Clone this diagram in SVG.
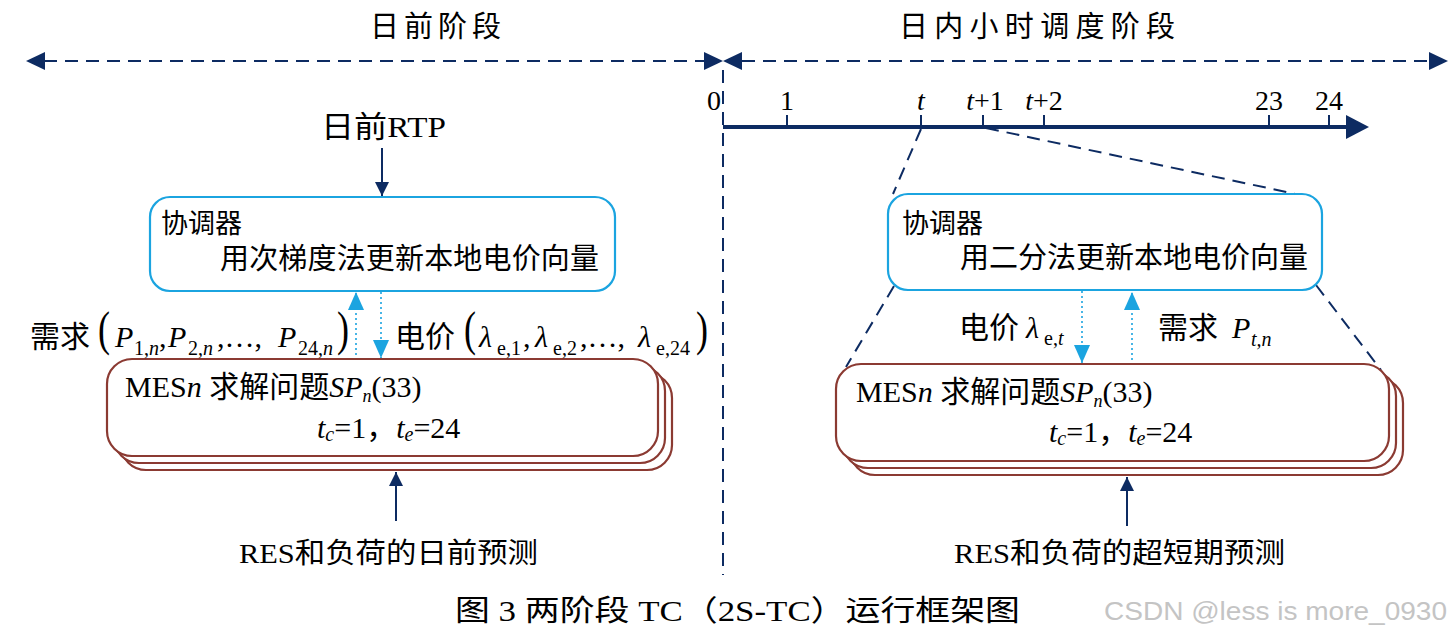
<svg xmlns="http://www.w3.org/2000/svg" width="1455" height="637" viewBox="0 0 1455 637">
<style>
text{font-family:"Liberation Serif","Noto Sans CJK SC",serif;fill:#000}
.it{font-style:italic}
.nav{stroke:#0d2b62;fill:none}
.dash{stroke:#0d2b62;stroke-width:2;stroke-dasharray:13,8;fill:none}
.coord{fill:#fff;stroke:#1ba4e0;stroke-width:2.2}
.mes{fill:#fff;stroke:#8b3a32;stroke-width:2.2}
.dot{stroke:#1ba4e0;stroke-width:1.6;stroke-dasharray:2,3;fill:none}
.sub{font-size:20px}
</style>
<defs>
<marker id="nh" viewBox="0 0 10 10" refX="10" refY="5" markerWidth="14" markerHeight="14" markerUnits="userSpaceOnUse" orient="auto"><path d="M0,0L10,5L0,10z" fill="#0d2b62"/></marker>
<marker id="ch" viewBox="0 0 10 10" refX="10" refY="5" markerWidth="18" markerHeight="16" markerUnits="userSpaceOnUse" orient="auto" preserveAspectRatio="none"><path d="M0,0L10,5L0,10z" fill="#1ba4e0"/></marker>
</defs>
<rect width="1455" height="637" fill="#fff"/>

<g id="connectors">
<line class="dash" x1="44" y1="61" x2="705" y2="61"/>
<line class="dash" x1="742" y1="61" x2="1430" y2="61"/>
<path d="M26,61L45,52L45,70z" fill="#0d2b62"/>
<path d="M723,61L704,52L704,70z" fill="#0d2b62"/>
<path d="M723,61L742,52L742,70z" fill="#0d2b62"/>
<path d="M1448,61L1429,52L1429,70z" fill="#0d2b62"/>
<line class="dash" x1="723" y1="70" x2="723" y2="575"/>
<line class="nav" x1="723" y1="127" x2="1350" y2="127" stroke-width="4"/>
<path d="M1369,127L1346,115L1346,139z" fill="#0d2b62"/>
<g class="nav" stroke-width="2">
<line x1="787" y1="115" x2="787" y2="127"/>
<line x1="921" y1="115" x2="921" y2="127"/>
<line x1="983" y1="115" x2="983" y2="127"/>
<line x1="1044" y1="115" x2="1044" y2="127"/>
<line x1="1269" y1="115" x2="1269" y2="127"/>
<line x1="1329" y1="115" x2="1329" y2="127"/>
</g>
<line class="dash" x1="921" y1="129" x2="893" y2="194"/>
<line class="dash" x1="986" y1="128" x2="1310" y2="197"/>
<line class="dash" x1="894" y1="286" x2="846" y2="367"/>
<line class="dash" x1="1316" y1="285" x2="1381" y2="370"/>
<line class="nav" stroke-width="2" x1="382" y1="148" x2="382" y2="196" marker-end="url(#nh)"/>
<line class="nav" stroke-width="2" x1="396" y1="521" x2="396" y2="472" marker-end="url(#nh)"/>
<line class="nav" stroke-width="2" x1="1127" y1="526" x2="1127" y2="477" marker-end="url(#nh)"/>
<line class="dot" x1="356" y1="355" x2="356" y2="292" marker-end="url(#ch)"/>
<line class="dot" x1="381" y1="292" x2="381" y2="358" marker-end="url(#ch)"/>
<line class="dot" x1="1082" y1="291" x2="1082" y2="363" marker-end="url(#ch)"/>
<line class="dot" x1="1132" y1="365" x2="1132" y2="292" marker-end="url(#ch)"/>
</g>

<g id="stage-labels">
<text x="370" y="37" font-size="29" textLength="131" lengthAdjust="spacing">日前阶段</text>
<text x="899" y="37" font-size="29" textLength="276" lengthAdjust="spacing">日内小时调度阶段</text>
</g>

<g id="timeline-labels">
<text x="714" y="110" font-size="28" text-anchor="middle">0</text>
<text x="787" y="110" font-size="28" text-anchor="middle">1</text>
<text x="921" y="110" font-size="28" text-anchor="middle" class="it">t</text>
<text x="985" y="110" font-size="28" text-anchor="middle"><tspan class="it">t</tspan>+1</text>
<text x="1044" y="110" font-size="28" text-anchor="middle"><tspan class="it">t</tspan>+2</text>
<text x="1269" y="110" font-size="28" text-anchor="middle">23</text>
<text x="1329" y="110" font-size="28" text-anchor="middle">24</text>
</g>

<g id="rtp-input">
<text x="321" y="137" font-size="30" textLength="125" lengthAdjust="spacingAndGlyphs">日前RTP</text>
</g>

<g id="coordinator-left">
<rect class="coord" x="150" y="197" width="465" height="94" rx="20"/>
<text x="161" y="233" font-size="27">协调器</text>
<text x="220" y="269" font-size="29" textLength="379" lengthAdjust="spacing">用次梯度法更新本地电价向量</text>
</g>

<g id="coordinator-right">
<rect class="coord" x="888" y="194" width="434" height="96" rx="20"/>
<text x="902" y="233" font-size="27">协调器</text>
<text x="960" y="268" font-size="29" textLength="348" lengthAdjust="spacing">用二分法更新本地电价向量</text>
</g>

<g id="mes-left">
<rect class="mes" x="121" y="373" width="551" height="97" rx="25"/>
<rect class="mes" x="114" y="366" width="551" height="97" rx="25"/>
<rect class="mes" x="107" y="359" width="551" height="97" rx="25"/>
<text x="125" y="397" font-size="30">MES<tspan class="it">n</tspan> 求解问题<tspan class="it">SP</tspan><tspan class="it" font-size="18" dy="5">n</tspan><tspan dy="-5">(33)</tspan></text>
<text x="317" y="438" font-size="30"><tspan class="it">t</tspan><tspan class="it" font-size="20" dy="3">c</tspan><tspan dy="-3">=1，</tspan><tspan class="it">t</tspan><tspan class="it" font-size="20" dy="3">e</tspan><tspan dy="-3">=24</tspan></text>
</g>

<g id="mes-right">
<rect class="mes" x="850" y="378" width="553" height="97" rx="25"/>
<rect class="mes" x="843" y="371" width="553" height="97" rx="25"/>
<rect class="mes" x="836" y="364" width="553" height="97" rx="25"/>
<text x="856" y="402" font-size="30">MES<tspan class="it">n</tspan> 求解问题<tspan class="it">SP</tspan><tspan class="it" font-size="18" dy="5">n</tspan><tspan dy="-5">(33)</tspan></text>
<text x="1049" y="442" font-size="30"><tspan class="it">t</tspan><tspan class="it" font-size="20" dy="3">c</tspan><tspan dy="-3">=1，</tspan><tspan class="it">t</tspan><tspan class="it" font-size="20" dy="3">e</tspan><tspan dy="-3">=24</tspan></text>
</g>

<g id="label-demand-left">
<text x="30" y="347" font-size="30">需求</text>
<text transform="translate(98,345) scale(0.75,1)" font-size="48">(</text>
<text x="115" y="347" font-size="30" class="it">P</text>
<text x="134" y="355" class="sub">1,<tspan class="it">n</tspan></text>
<text x="159" y="347" font-size="30">,</text>
<text x="168" y="347" font-size="30" class="it">P</text>
<text x="188" y="355" class="sub">2,<tspan class="it">n</tspan></text>
<text x="217" y="347" font-size="30">,…,</text>
<text x="278" y="347" font-size="30" class="it">P</text>
<text x="298" y="355" class="sub">24,<tspan class="it">n</tspan></text>
<text transform="translate(337,345) scale(0.75,1)" font-size="48">)</text>
</g>

<g id="label-price-left">
<text x="395" y="347" font-size="30">电价</text>
<text transform="translate(464,345) scale(0.75,1)" font-size="48">(</text>
<text x="479" y="347" font-size="30" class="it">λ</text>
<text x="497" y="355" class="sub">e,1</text>
<text x="523" y="347" font-size="30">,</text>
<text x="535" y="347" font-size="30" class="it">λ</text>
<text x="553" y="355" class="sub">e,2</text>
<text x="580" y="347" font-size="30">,…,</text>
<text x="638" y="347" font-size="30" class="it">λ</text>
<text x="656" y="355" class="sub">e,24</text>
<text transform="translate(696,345) scale(0.75,1)" font-size="48">)</text>
</g>

<g id="label-price-right">
<text x="959" y="338" font-size="30">电价</text>
<text x="1026" y="338" font-size="30" class="it">λ</text>
<text x="1044" y="345" class="sub">e,<tspan class="it">t</tspan></text>
</g>

<g id="label-demand-right">
<text x="1158" y="338" font-size="30">需求</text>
<text x="1232" y="338" font-size="30" class="it">P</text>
<text x="1251" y="346" class="sub it">t,n</text>
</g>

<g id="forecast-left">
<text x="239" y="563" font-size="28" textLength="299" lengthAdjust="spacingAndGlyphs">RES和负荷的日前预测</text>
</g>
<g id="forecast-right">
<text x="954" y="563" font-size="28" textLength="331" lengthAdjust="spacingAndGlyphs">RES和负荷的超短期预测</text>
</g>

<g id="caption">
<text x="455" y="621" font-size="29" textLength="565" lengthAdjust="spacingAndGlyphs">图 3 两阶段 TC（2S-TC）运行框架图</text>
<text x="1104" y="620" font-size="25" style="font-family:'Liberation Sans',sans-serif;fill:#c4c4c4" textLength="343" lengthAdjust="spacingAndGlyphs">CSDN @less is more_0930</text>
</g>
</svg>
